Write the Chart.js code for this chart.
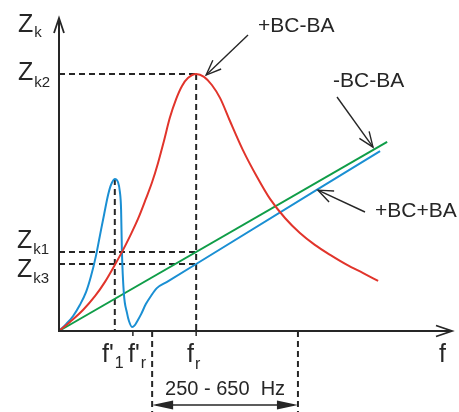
<!DOCTYPE html>
<html lang="en">
<head>
<meta charset="UTF-8">
<title>Zk against f</title>
<script src="https://cdn.jsdelivr.net/npm/chart.js"></script>
<style>
  body { margin: 0; background: #fff; }
  #chart { display: block; }
</style>
</head>
<body>
<canvas id="chart" width="459" height="412"></canvas>
<script>
// both axes run 0..100 (arbitrary units)
const redF  = [0, 2.8, 6.1, 9.2, 11.7, 14.2, 16.0, 18.1, 20.1, 22.1, 23.7, 25.2, 26.7, 28.2, 29.8, 31.3, 32.8, 34.9, 36.9, 38.9, 41.0, 43.5, 46.8, 50.4, 53.7, 57.5, 61.3, 65.1, 69.0, 73.3, 77.4, 81.2];
const redZ  = [0, 2.9, 6.7, 11.2, 15.7, 21.1, 25.2, 30.4, 35.8, 42.2, 47.6, 53.7, 60.7, 68.1, 74.1, 78.3, 80.8, 82.1, 81.2, 78.6, 74.4, 67.1, 57.8, 49.2, 42.2, 36.1, 31.3, 27.5, 24.3, 21.1, 18.5, 16.0];

const blueF = [0, 1.8, 3.6, 5.3, 6.9, 8.1, 9.4, 10.4, 11.5, 12.5, 13.2, 14.2, 15.0, 15.5, 15.8, 16.0, 16.5, 17.3, 17.8, 18.6, 19.3, 19.8, 20.9, 22.1, 23.4, 24.9, 27.5, 34.9, 81.7];
const blueZ = [0, 2.2, 4.8, 8.3, 12.5, 17.3, 24.0, 30.4, 37.4, 43.5, 46.6, 48.6, 47.6, 44.4, 38.7, 25.9, 12.1, 5.8, 3.2, 1.3, 1.9, 2.9, 5.4, 8.6, 11.2, 13.7, 15.7, 21.4, 57.5];

const greenF = [0, 83.5];
const greenZ = [0, 60.4];

// marked frequencies and impedance levels
const fPrime1 = 14.2, fPrimeR = 18.8, fRes = 34.9;
const bandLo = 23.7, bandHi = 60.8;
const zk2 = 82.1, zk1 = 25.2, zk3 = 21.4, zPeakBlue = 48.6;

const RED = '#e1342b', BLUE = '#1a8fd3', GREEN = '#0f9d48', INK = '#262626';
const FONT = '"Liberation Sans", Arial, sans-serif';

function pts(xs, ys) { return xs.map((x, i) => ({ x: x, y: ys[i] })); }

function zAt(xs, ys, f) {
  for (let i = 1; i < xs.length; i++) {
    if (f <= xs[i]) {
      const t = (f - xs[i - 1]) / (xs[i] - xs[i - 1]);
      return ys[i - 1] + t * (ys[i] - ys[i - 1]);
    }
  }
  return ys[ys.length - 1];
}

function arrowHead(c, x1, y1, x2, y2, len, half, filled) {
  const a = Math.atan2(y2 - y1, x2 - x1);
  const bx = x2 - len * Math.cos(a), by = y2 - len * Math.sin(a);
  const px = -Math.sin(a) * half, py = Math.cos(a) * half;
  c.beginPath();
  c.moveTo(bx + px, by + py);
  c.lineTo(x2, y2);
  c.lineTo(bx - px, by - py);
  if (filled) { c.closePath(); c.fill(); } else c.stroke();
}

function pointer(c, x1, y1, x2, y2) {
  c.lineWidth = 1.4;
  c.beginPath(); c.moveTo(x1, y1); c.lineTo(x2, y2); c.stroke();
  arrowHead(c, x1, y1, x2, y2, 15, 6, false);
}

function label(c, x, y, main, sub, size, subSize, drop) {
  c.font = size + 'px ' + FONT;
  c.fillText(main, x, y);
  if (sub) {
    const w = c.measureText(main).width;
    c.font = subSize + 'px ' + FONT;
    c.fillText(sub, x + w + 1, y + drop);
  }
}

const sketch = {
  id: 'sketch',
  beforeDatasetsDraw(chart) {
    const c = chart.ctx, X = chart.scales.x, Y = chart.scales.y;
    const x0 = X.getPixelForValue(0), y0 = Y.getPixelForValue(0);
    c.save();
    c.strokeStyle = INK;
    c.lineWidth = 2;
    c.setLineDash([6, 4]);
    const xr = X.getPixelForValue(fRes);
    [zk2, zk1, zk3].forEach(z => {
      const y = Y.getPixelForValue(z);
      c.beginPath(); c.moveTo(x0, y); c.lineTo(xr, y); c.stroke();
    });
    c.beginPath(); c.moveTo(xr, Y.getPixelForValue(zk2)); c.lineTo(xr, y0); c.stroke();
    const x1 = X.getPixelForValue(fPrime1);
    c.beginPath(); c.moveTo(x1, Y.getPixelForValue(zPeakBlue)); c.lineTo(x1, y0); c.stroke();
    [bandLo, bandHi].forEach(f => {
      const x = X.getPixelForValue(f);
      c.beginPath(); c.moveTo(x, y0); c.lineTo(x, chart.height); c.stroke();
    });
    c.restore();
  },
  afterDatasetsDraw(chart) {
    const c = chart.ctx, X = chart.scales.x, Y = chart.scales.y;
    const x0 = X.getPixelForValue(0), y0 = Y.getPixelForValue(0);
    const a = chart.chartArea;
    c.save();
    c.strokeStyle = INK;
    c.fillStyle = INK;
    c.lineWidth = 2;
    c.lineCap = 'butt';
    // axes
    c.beginPath(); c.moveTo(x0, y0 + 1); c.lineTo(x0, a.top); c.stroke();
    c.beginPath(); c.moveTo(x0 - 1, y0); c.lineTo(a.right, y0); c.stroke();
    c.lineWidth = 1.8;
    arrowHead(c, x0, y0, x0, a.top, 15, 5, false);
    arrowHead(c, x0, y0, a.right, y0, 16, 5.5, false);
    // small ticks under the axis
    c.lineWidth = 1.5;
    [fPrimeR, fRes].forEach(f => {
      const x = X.getPixelForValue(f);
      c.beginPath(); c.moveTo(x, y0); c.lineTo(x, y0 + 5); c.stroke();
    });

    // band arrow
    const bl = X.getPixelForValue(bandLo), bh = X.getPixelForValue(bandHi);
    const by = 405;
    c.beginPath(); c.moveTo(bl + 4, by); c.lineTo(bh - 4, by); c.stroke();
    arrowHead(c, bh, by, bl, by, 21, 4.5, true);
    arrowHead(c, bl, by, bh, by, 21, 4.5, true);

    // pointers
    const rx = X.getPixelForValue(fRes), ry = Y.getPixelForValue(zk2);
    pointer(c, 248, 35, rx + 10, ry + 1);
    const gf = 79.9;
    pointer(c, 337, 97, X.getPixelForValue(gf), Y.getPixelForValue(zAt(greenF, greenZ, gf)) - 3);
    const bf = 65.9;
    pointer(c, 365, 212, X.getPixelForValue(bf), Y.getPixelForValue(zAt(blueF, blueZ, bf)) + 1);

    // texts
    c.textBaseline = 'alphabetic';
    c.textAlign = 'left';
    label(c, 18, 32, 'Z', 'k', 25, 15, 5);
    label(c, 18, 80, 'Z', 'k2', 25, 15, 7);
    label(c, 17, 248, 'Z', 'k1', 25, 15, 6);
    label(c, 17, 277, 'Z', 'k3', 25, 15, 6);
    label(c, 102, 362, 'f\'', '1', 25, 16, 6);
    label(c, 128, 362, 'f\'', 'r', 25, 16, 6);
    label(c, 187, 362, 'f', 'r', 25, 16, 7);
    label(c, 439, 362, 'f', '', 25, 16, 0);
    c.font = '21px ' + FONT;
    c.fillText('+BC-BA', 258, 32);
    c.fillText('-BC-BA', 333, 87);
    c.fillText('+BC+BA', 375, 217);
    c.font = '20px ' + FONT;
    c.textAlign = 'center';
    c.fillText('250 - 650  Hz', (bl + bh) / 2, 395);
    c.restore();
  }
};

const line = { showLine: true, pointRadius: 0, borderWidth: 2, fill: false, clip: false };

new Chart(document.getElementById('chart'), {
  type: 'scatter',
  data: {
    datasets: [
      Object.assign({ data: pts(redF, redZ), borderColor: RED, cubicInterpolationMode: 'monotone' }, line),
      Object.assign({ data: pts(blueF, blueZ), borderColor: BLUE, cubicInterpolationMode: 'monotone' }, line),
      Object.assign({ data: pts(greenF, greenZ), borderColor: GREEN }, line)
    ]
  },
  options: {
    responsive: false,
    animation: false,
    events: [],
    layout: { padding: { left: 59, right: 7, top: 18, bottom: 81 } },
    scales: {
      x: { type: 'linear', min: 0, max: 100, display: false },
      y: { type: 'linear', min: 0, max: 100, display: false }
    },
    plugins: { legend: { display: false }, tooltip: { enabled: false } }
  },
  plugins: [sketch]
});
</script>
</body>
</html>
